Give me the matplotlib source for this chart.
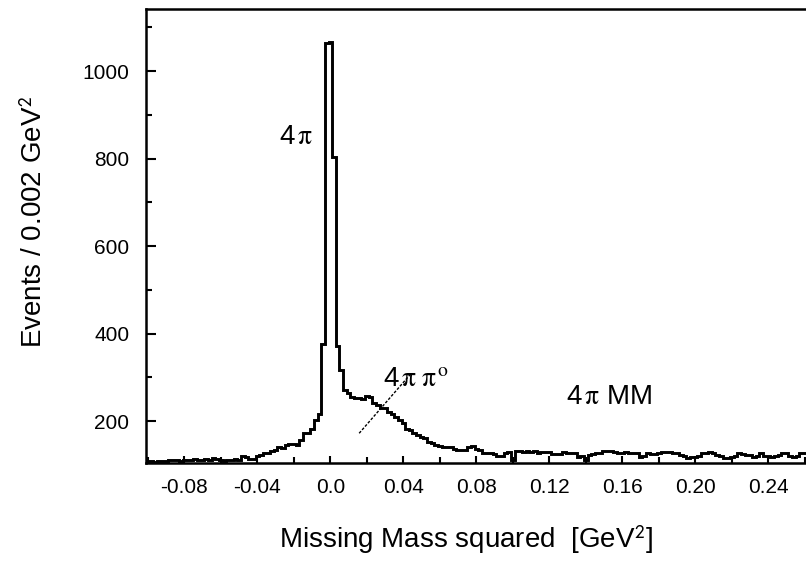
import numpy as np
import matplotlib
matplotlib.use("Agg")
import matplotlib.pyplot as plt
from matplotlib.ticker import MultipleLocator

plt.rcParams['font.family'] = ['Liberation Sans', 'DejaVu Sans']
plt.rcParams['mathtext.fontset'] = 'stix'

# histogram: bins of 0.002 GeV^2, first bin centre -0.100, last 0.260
bin_width = 0.002
first_centre = -0.100
counts = [
    108, 108, 107, 108, 109, 108, 112, 111, 110, 109,
    110, 110, 112, 113, 112, 111, 113, 112, 115, 114,
    110, 109, 111, 112, 113, 111, 120, 118, 114, 113,
    121, 122, 126, 127, 131, 133, 140, 139, 146, 147,
    148, 146, 156, 172, 173, 181, 202, 215, 377, 1064,
    1066, 803, 372, 317, 271, 263, 255, 252, 252, 250,
    257, 256, 241, 236, 230, 229, 221, 215, 210, 203,
    195, 182, 179, 172, 168, 163, 161, 152, 150, 145,
    144, 141, 140, 140, 137, 134, 133, 133, 140, 142,
    135, 133, 126, 126, 126, 124, 121, 121, 128, 129,
    112, 131, 131, 130, 131, 129, 131, 127, 129, 129,
    130, 124, 124, 125, 129, 127, 126, 126, 118, 120,
    112, 122, 124, 127, 128, 131, 131, 131, 130, 126,
    127, 129, 128, 126, 126, 118, 120, 126, 125, 124,
    127, 129, 129, 129, 127, 127, 122, 121, 115, 117,
    118, 121, 126, 127, 129, 128, 122, 121, 115, 116,
    118, 119, 126, 124, 122, 122, 118, 119, 126, 121,
    120, 118, 120, 122, 126, 127, 121, 118, 119, 126,
    126,
]

xtick_vals = [-0.08, -0.04, 0.0, 0.04, 0.08, 0.12, 0.16, 0.20, 0.24]
xtick_labels = ["-0.08", "-0.04", "0.0", "0.04", "0.08", "0.12", "0.16", "0.20", "0.24"]
ytick_vals = [200, 400, 600, 800, 1000]

# dashed pointer for the 4 pi pi0 component
pointer_x = [0.0158, 0.0443]
pointer_y = [172, 309]

n = len(counts)
edges = first_centre - bin_width / 2 + bin_width * np.arange(n + 1)

fig = plt.figure(figsize=(8.06, 5.76), dpi=100)
ax = fig.add_axes([146 / 806, 113 / 576, 660 / 806, 454 / 576])

ax.stairs(counts, edges, color="black", lw=2.1, baseline=None)
ax.plot(pointer_x, pointer_y, color="black", lw=1.0, linestyle=(0, (2, 1.2)))

ax.text(-0.0186, 849, r"4$\,\mathrm{\pi}$", fontsize=20, ha="center", va="center")
ax.text(0.047, 296, r"4$\,\mathrm{\pi\;\pi}^{\,\mathrm{o}}$", fontsize=20, ha="center", va="center")
ax.text(0.153, 256, r"4$\,\mathrm{\pi}$ MM", fontsize=20, ha="center", va="center")

ax.set_xlim(-0.101, 0.2606)
ax.set_ylim(104, 1142)

ax.set_xticks(xtick_vals)
ax.set_xticklabels(xtick_labels)
ax.xaxis.set_minor_locator(MultipleLocator(0.02))
ax.set_yticks(ytick_vals)
ax.yaxis.set_minor_locator(MultipleLocator(100))

ax.tick_params(which="both", direction="in", width=1.5, labelsize=15)
ax.tick_params(axis="y", which="major", length=7, pad=12)
ax.tick_params(axis="y", which="minor", length=4)
ax.tick_params(axis="x", which="major", length=5, pad=11)
ax.tick_params(axis="x", which="minor", length=4)

for s in ["left", "bottom", "top"]:
    ax.spines[s].set_linewidth(1.8)
ax.spines["right"].set_visible(False)

ax.set_ylabel(r"Events / 0.002 GeV$^{\mathsf{2}}$", fontsize=20)
ax.yaxis.set_label_coords(-0.149, 0.53)
ax.set_xlabel(r"Missing Mass squared  [GeV$^{\mathsf{2}}$]", fontsize=20)
ax.xaxis.set_label_coords(0.484, -0.133)

fig.savefig("out.png", dpi=100)
